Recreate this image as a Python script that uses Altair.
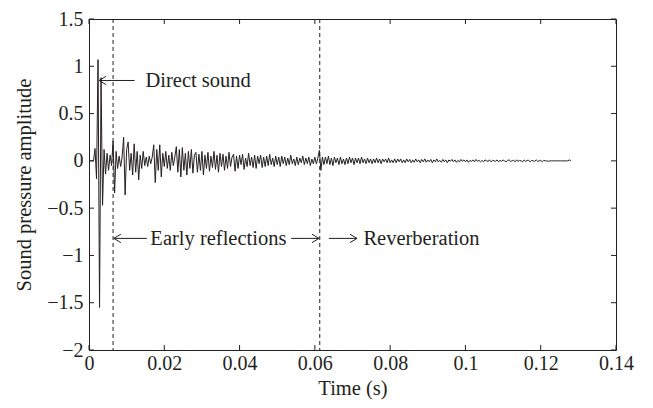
import altair as alt
import pandas as pd

# ---------------- data ----------------
SAMPLE_STEP = 0.0004  # seconds between samples of the impulse response

amp_direct = [0, 0, 0, 0, 0.13, -0.19, 1.07, -1.55, 0.88, -0.47,
              0.12, -0.14, 0.08, -0.10, 0.06, -0.05]
amp_early = [0.21, -0.34, 0.10, -0.08, 0.05, -0.06, 0.04, 0.25, -0.36, 0.12,
             0.20, -0.10, 0.08, -0.15, 0.18, -0.12, 0.10, -0.20, 0.06, -0.08,
             0.10, -0.05, 0.04, -0.06, 0.05, -0.03, 0.04,
             0.17, -0.23, 0.12, -0.10, 0.17, -0.17, 0.08, -0.06,
             0.10, -0.08, 0.06, -0.10, 0.09, -0.05, 0.04,
             0.15, -0.12, 0.12, -0.17, 0.14, -0.10, 0.08, -0.15, 0.10, -0.08,
             0.12, -0.13, 0.06]
amp_mid = [0.09, -0.12, 0.07, -0.10, 0.10, -0.15, 0.06, -0.08, 0.09, -0.11,
           0.05, -0.07, 0.10, -0.09, 0.06, -0.12, 0.08, -0.06, 0.07, -0.10,
           0.05, -0.08, 0.09, -0.06, 0.04,
           0.07, -0.11, 0.05, -0.08, 0.06, -0.04, 0.07, -0.09, 0.03, -0.06,
           0.08, -0.05, 0.04, -0.07, 0.06, -0.08, 0.05, -0.03, 0.06, -0.07,
           0.04, -0.06, 0.05, -0.05, 0.07, -0.04, 0.03, -0.06, 0.05, -0.04,
           0.04, -0.06, 0.05, -0.03, 0.04, -0.05, 0.03, -0.04, 0.06, -0.03,
           0.02, -0.05, 0.04, -0.04, 0.03, -0.02, 0.05, -0.04, 0.03, -0.03,
           0.04, -0.05, 0.02, -0.03, 0.04, -0.03, 0.03]
amp_late = [0.11, -0.10, 0.04,
            -0.04, 0.04, -0.03, 0.05, -0.04, 0.03, -0.05, 0.04, -0.02, 0.03,
            -0.04, 0.04, -0.03, 0.02, -0.04, 0.03, -0.03, 0.04, -0.02, 0.03,
            -0.04, 0.03, -0.02, 0.03, -0.03, 0.04, -0.02, 0.02, -0.03, 0.03,
            -0.02, 0.02,
            -0.03, 0.02, -0.02, 0.03, -0.02, 0.02, -0.03, 0.02, -0.01, 0.02,
            -0.02, 0.03, -0.02, 0.01, -0.02, 0.02, -0.02, 0.02, -0.01, 0.02,
            -0.02, 0.01, -0.02]
amp_tail = [0.02, -0.01, 0.015, -0.02, 0.01, -0.015, 0.02, -0.01, 0.01, -0.02,
            0.015, -0.01, 0.02, -0.015, 0.01, -0.01, 0.015, -0.02, 0.01, -0.01,
            0.02, -0.01, 0.005, -0.015, 0.015, -0.01, 0.01, -0.02, 0.01, -0.005,
            0.015, -0.01, 0.01, -0.015, 0.005, -0.01, 0.015, -0.005, 0.01, -0.01,
            0.01, -0.015, 0.005, -0.005, 0.01, -0.01, 0.015, -0.005, 0.005, -0.01,
            0.005, -0.01, 0.01, 0, -0.005, 0.01, -0.01, 0.005, 0, -0.005,
            0.01, -0.01, 0.005, -0.005, 0.01, 0, -0.01, 0.005, 0.01, -0.005,
            0, 0.005, -0.01, 0.01, -0.005, 0.005, 0, -0.01, 0.01, -0.005,
            0.005, 0.005, -0.01, 0.005, 0, -0.005, 0.01, -0.005, 0, 0.005,
            -0.01, 0.005, 0, 0, -0.005,
            0, 0, 0, 0, 0, 0, 0, 0, 0, 0, 0, 0, 0, 0.01, 0]

boundary_times = [0.0064, 0.0613]

x_ticks = [0, 0.02, 0.04, 0.06, 0.08, 0.1, 0.12, 0.14]
y_ticks = [-2, -1.5, -1, -0.5, 0, 0.5, 1, 1.5]

arrow_tip = [0.0027, 0.0066, 0.0611, 0.0712]
arrow_tail = [0.0121, 0.0154, 0.0537, 0.0637]
arrow_y = [0.85, -0.82, -0.82, -0.82]
arrow_dir = ["left", "left", "right", "right"]

label_text = ["Direct sound", "Early reflections", "Reverberation"]
label_x = [0.0150, 0.0163, 0.0729]
label_y = [0.85, -0.82, -0.82]

# ---------------- build tables ----------------
amp = amp_direct + amp_early + amp_mid + amp_late + amp_tail
wave = pd.DataFrame({"t": [i * SAMPLE_STEP for i in range(len(amp))], "p": amp})
bounds = pd.DataFrame({"t": boundary_times})
xt = pd.DataFrame({"t": x_ticks})
yt = pd.DataFrame({"p": y_ticks})
HEAD = {"left": "M2,-1.2L0,0L2,1.2", "right": "M-2,-1.2L0,0L-2,1.2"}
arrows = pd.DataFrame({"tip": arrow_tip, "tail": arrow_tail, "p": arrow_y,
                       "head": [HEAD[d] for d in arrow_dir]})
labels = pd.DataFrame({"txt": label_text, "t": label_x, "p": label_y})

INK = "#231f20"
FONT = "Liberation Serif"
W, H = 527, 331

xs = alt.Scale(domain=[0, 0.14], nice=False, zero=False)
ys = alt.Scale(domain=[-2, 1.5], nice=False, zero=False)
xaxis = alt.Axis(values=x_ticks, format="~g", title="Time (s)", ticks=False, tickSize=0,
                 domain=False, grid=False, labelPadding=3, titlePadding=5,
                 labelFlush=False, labelFont=FONT, titleFont=FONT, labelFontSize=20,
                 titleFontSize=20.5, labelColor=INK, titleColor=INK,
                 titleFontWeight="normal")
yaxis = alt.Axis(values=y_ticks, format="~g", title="Sound pressure amplitude", ticks=False,
                 tickSize=0, domain=False, grid=False, labelPadding=6, titlePadding=12,
                 labelFlush=False, labelFont=FONT, titleFont=FONT, labelFontSize=20,
                 titleFontSize=20.5, labelColor=INK, titleColor=INK,
                 titleFontWeight="normal")


def X(field):
    return alt.X(f"{field}:Q", scale=xs, axis=xaxis)


def Y(field):
    return alt.Y(f"{field}:Q", scale=ys, axis=yaxis)


line = alt.Chart(wave).mark_line(color=INK, strokeWidth=1, interpolate="linear").encode(
    x=X("t"), y=Y("p"))

dashed = alt.Chart(bounds).mark_rule(color=INK, strokeWidth=1, strokeDash=[4, 3]).encode(
    x=X("t"))

tick_bottom = alt.Chart(xt).mark_rule(color=INK, strokeWidth=1).encode(
    x=X("t"), y=alt.value(H), y2=alt.value(H - 5))
tick_top = alt.Chart(xt).mark_rule(color=INK, strokeWidth=1).encode(
    x=X("t"), y=alt.value(0), y2=alt.value(5))
tick_left = alt.Chart(yt).mark_rule(color=INK, strokeWidth=1).encode(
    y=Y("p"), x=alt.value(0), x2=alt.value(5))
tick_right = alt.Chart(yt).mark_rule(color=INK, strokeWidth=1).encode(
    y=Y("p"), x=alt.value(W), x2=alt.value(W - 5))

shafts = alt.Chart(arrows).mark_rule(color=INK, strokeWidth=1).encode(
    x=X("tip"), x2="tail:Q", y=Y("p"))
heads = alt.Chart(arrows).mark_point(filled=False, color=INK, strokeWidth=1, size=49,
                                     opacity=1).encode(
    x=X("tip"), y=Y("p"), shape=alt.Shape("head:N", scale=None))

texts = alt.Chart(labels).mark_text(align="left", baseline="middle", font=FONT,
                                    fontSize=20.5, color=INK, dy=1).encode(
    x=X("t"), y=Y("p"), text="txt:N")

chart = alt.layer(
    line, dashed, tick_bottom, tick_top, tick_left, tick_right, shafts, heads, texts
).properties(
    width=W, height=H,
    background="white",
    autosize=alt.AutoSizeParams(type="none"),
    padding={"left": 81, "top": 11, "right": 20, "bottom": 50},
).configure_view(
    stroke=INK, strokeWidth=1
)

chart.save("out.html", embed_options={"renderer": "svg", "actions": False})
